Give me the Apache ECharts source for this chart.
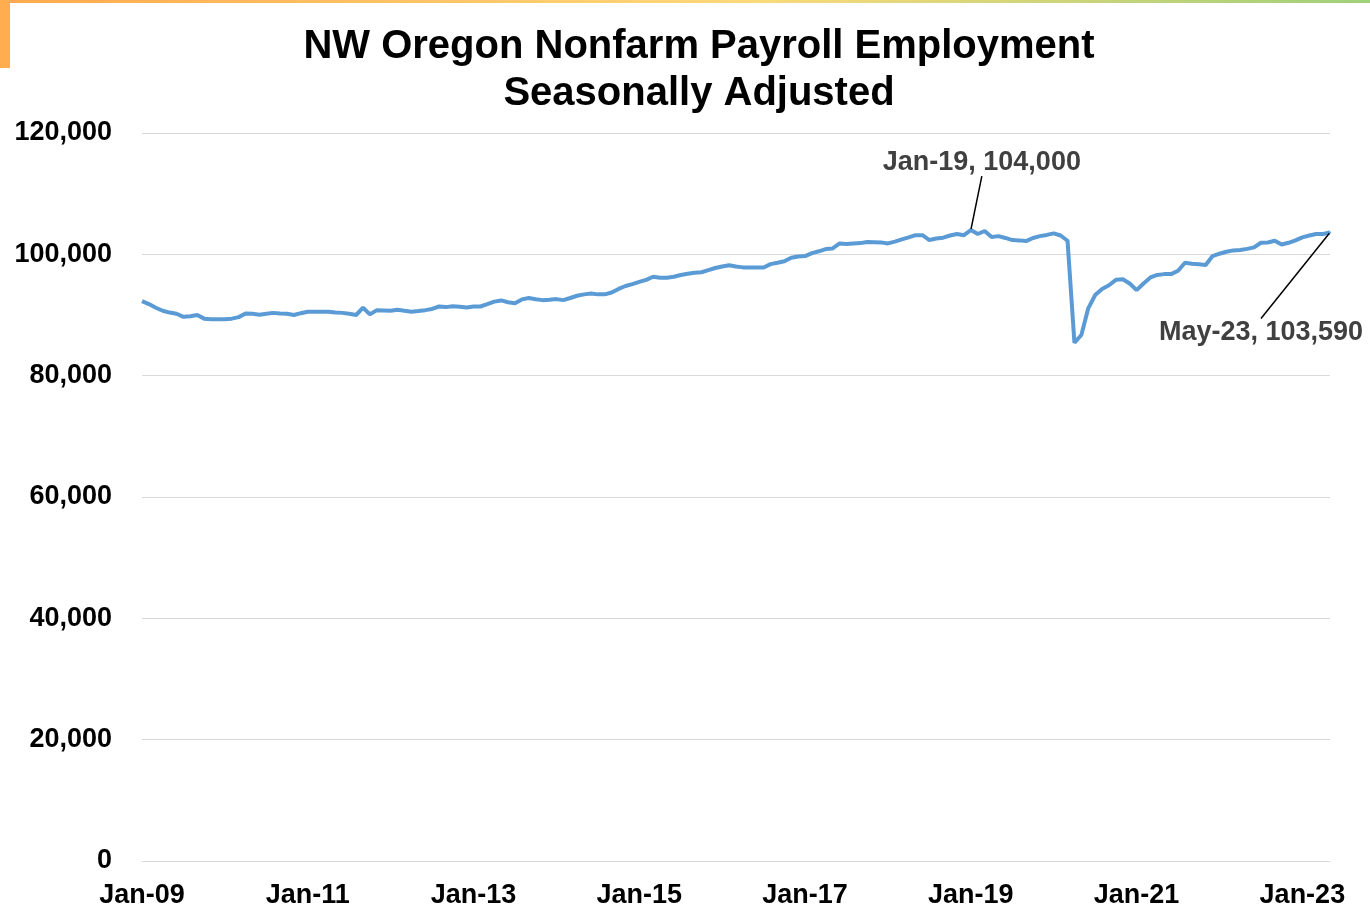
<!DOCTYPE html>
<html>
<head>
<meta charset="utf-8">
<title>NW Oregon Nonfarm Payroll Employment</title>
<script src="https://cdn.jsdelivr.net/npm/echarts@6/dist/echarts.min.js"></script>
<style>
  html, body { margin: 0; padding: 0; background: #fff; }
  #wrap { position: relative; width: 1370px; height: 907px; overflow: hidden; }
  /* slide decoration: thin gradient strip on top, orange tab on the left */
  #topbar { position: absolute; left: 0; top: 0; width: 1370px; height: 3px;
    background: linear-gradient(to right, #ffa94d, #fbd97a 55%, #9fd07a); }
  #tab { position: absolute; left: 0; top: 0; width: 10px; height: 68px; background: #ffad4f; }
  #chart { position: absolute; left: 0; top: 0; width: 1370px; height: 907px; }
</style>
</head>
<body>
<div id="wrap">
  <div id="chart"></div>
  <div id="topbar"></div>
  <div id="tab"></div>
</div>
<script>
// monthly labels
var monthNames = ['Jan', 'Feb', 'Mar', 'Apr', 'May', 'Jun', 'Jul', 'Aug', 'Sep', 'Oct', 'Nov', 'Dec'];
var years = [2009, 2010, 2011, 2012, 2013, 2014, 2015, 2016, 2017, 2018, 2019, 2020, 2021, 2022, 2023];

// employment, seasonally adjusted
var emp2009 = [92300, 91800, 91200, 90700, 90400, 90200, 89700, 89800, 90000, 89400, 89300, 89300];
var emp2010 = [89300, 89400, 89650, 90250, 90200, 90050, 90200, 90350, 90250, 90200, 90000, 90300];
var emp2011 = [90540, 90550, 90550, 90550, 90400, 90350, 90200, 90000, 91200, 90100, 90800, 90750];
var emp2012 = [90700, 90870, 90700, 90540, 90650, 90800, 91000, 91400, 91300, 91450, 91350, 91250];
var emp2013 = [91400, 91400, 91800, 92200, 92400, 92100, 91950, 92570, 92800, 92600, 92450, 92500];
var emp2014 = [92620, 92450, 92800, 93170, 93400, 93560, 93400, 93400, 93700, 94300, 94780, 95100];
var emp2015 = [95450, 95800, 96300, 96150, 96150, 96300, 96600, 96800, 96950, 97050, 97400, 97750];
var emp2016 = [98000, 98200, 98000, 97850, 97840, 97840, 97840, 98390, 98600, 98850, 99450, 99650];
var emp2017 = [99710, 100200, 100500, 100870, 100980, 101800, 101690, 101800, 101850, 102030, 102000, 101970];
var emp2018 = [101800, 102100, 102460, 102800, 103160, 103160, 102350, 102600, 102750, 103100, 103350, 103160];
var emp2019 = [104000, 103350, 103850, 102850, 103000, 102700, 102350, 102300, 102180, 102700, 103000, 103200];
var emp2020 = [103460, 103100, 102240, 85420, 86700, 91100, 93300, 94300, 94900, 95800, 95900, 95200];
var emp2021 = [94100, 95200, 96190, 96600, 96740, 96740, 97300, 98610, 98450, 98350, 98230, 99710];
var emp2022 = [100100, 100420, 100650, 100700, 100900, 101140, 101910, 101960, 102240, 101630, 101900, 102300];
var emp2023 = [102790, 103100, 103350, 103350, 103590];

var yTicks = [0, 20000, 40000, 60000, 80000, 100000, 120000];

var employment = [].concat(emp2009, emp2010, emp2011, emp2012, emp2013, emp2014, emp2015,
  emp2016, emp2017, emp2018, emp2019, emp2020, emp2021, emp2022, emp2023);

var categories = [];
years.forEach(function (y) {
  monthNames.forEach(function (m) {
    if (categories.length < employment.length) {
      categories.push(m + '-' + String(y).slice(2));
    }
  });
});

var peakIdx = categories.indexOf('Jan-19');
var lastIdx = employment.length - 1;

var FONT = '"Liberation Sans", Arial, sans-serif';
var LINE_COLOR = '#5b9bd5';

function fmt(v) {
  return Number(v).toLocaleString('en-US');
}

var seriesData = employment.map(function (v, i) {
  if (i === peakIdx || i === lastIdx) {
    return {
      value: v,
      symbol: 'circle',
      symbolSize: 2,
      label: {
        show: true,
        position: i === peakIdx ? 'top' : 'bottom',
        distance: 5,
        // invisible box, taller on the last label so the leader meets its top edge
        backgroundColor: 'rgba(255,255,255,0)',
        padding: i === lastIdx ? [0, 0, 40, 0] : 0
      },
      labelLine: {
        show: true,
        lineStyle: { color: '#000', width: 1.5 }
      }
    };
  }
  return v;
});

var chart = echarts.init(document.getElementById('chart'));

var option = {
  backgroundColor: 'transparent',
  animation: false,
  textStyle: { fontFamily: FONT },
  title: {
    text: 'NW Oregon Nonfarm Payroll Employment\nSeasonally Adjusted',
    left: 694,
    top: 18,
    textAlign: 'center',
    textStyle: {
      fontFamily: FONT,
      fontSize: 40,
      fontWeight: 'bold',
      color: '#000',
      lineHeight: 47
    }
  },
  grid: {
    left: 142,
    right: 40,
    top: 133,
    bottom: 46,
    containLabel: false,
    outerBoundsMode: 'none'
  },
  xAxis: {
    type: 'category',
    data: categories,
    boundaryGap: false,
    axisLine: { show: true, lineStyle: { color: '#d9d9d9', width: 1 } },
    axisTick: { show: false },
    axisLabel: {
      interval: 23,
      margin: 21,
      color: '#000',
      fontFamily: FONT,
      fontSize: 27,
      fontWeight: 'bold'
    },
    splitLine: { show: false }
  },
  yAxis: {
    type: 'value',
    min: yTicks[0],
    max: yTicks[yTicks.length - 1],
    interval: yTicks[1] - yTicks[0],
    axisLine: { show: false },
    axisTick: { show: false },
    axisLabel: {
      margin: 30,
      color: '#000',
      fontFamily: FONT,
      fontSize: 27,
      fontWeight: 'bold',
      formatter: function (v) { return fmt(v); }
    },
    splitLine: { lineStyle: { color: '#d9d9d9', width: 1 } }
  },
  series: [
    {
      name: 'Employment',
      type: 'line',
      data: seriesData,
      symbol: 'none',
      showSymbol: true,
      showAllSymbol: true,
      lineStyle: { color: LINE_COLOR, width: 4 },
      itemStyle: { color: LINE_COLOR },
      label: {
        color: '#404040',
        fontFamily: FONT,
        fontSize: 27,
        fontWeight: 'bold',
        formatter: function (p) { return p.name + ', ' + fmt(p.value); }
      },
      labelLayout: function (params) {
        if (params.dataIndex === peakIdx) {
          return { dx: 11, dy: -48 };
        }
        if (params.dataIndex === lastIdx) {
          return { dx: -69, dy: 80 };
        }
        return {};
      },
      emphasis: { disabled: true }
    }
  ]
};

chart.setOption(option);
</script>
</body>
</html>
